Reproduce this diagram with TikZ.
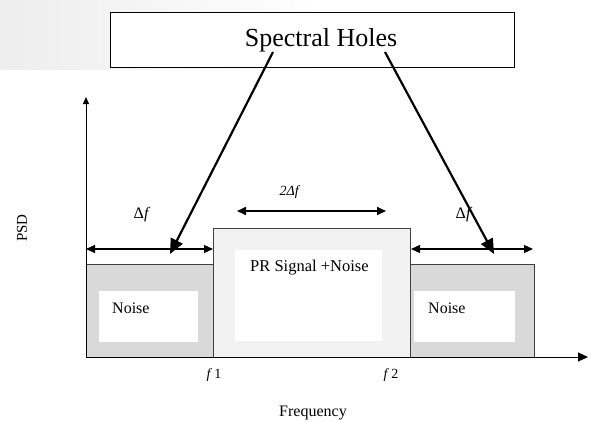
\documentclass[tikz,border=0pt]{standalone}
\usepackage{fontspec}
\setmainfont{Liberation Serif}
\usetikzlibrary{arrows.meta}
\usetikzlibrary{positioning}
\usetikzlibrary{fadings}

\definecolor{noisegray}{HTML}{D9D9D9}
\definecolor{signalgray}{HTML}{F2F2F2}
\definecolor{edgegray}{HTML}{404040}

\begin{document}
\begin{tikzpicture}[x=1pt, y=-1pt]
    \tikzstyle{band}=[draw=edgegray, line width=0.9pt]
    \tikzstyle{hole}=[fill=white, draw=none]
    \tikzstyle{lbl}=[inner sep=0pt, font=\fontsize{16}{18}\selectfont]
    \tikzstyle{dim}=[line width=1.2pt, {Triangle[length=9pt,width=8pt]}-{Triangle[length=9pt,width=8pt]}]
    \tikzstyle{pointer}=[line width=2.2pt, -{Triangle[length=15pt,width=13pt]}]
\useasboundingbox (0,0) rectangle (591,421);
% faint background patch
\fill[black!7, path fading=east] (0,0) rectangle (320,70);
% axes
    \coordinate (origin) at (86,357);
    \coordinate (ytip) at (86,97);
    \coordinate (xtip) at (588,357);
% bands
\draw[band, fill=noisegray] (86,264) rectangle (213,357);
\draw[band, fill=signalgray] (213,228) rectangle (410,357);
\draw[band, fill=noisegray] (410,264) rectangle (534,357);
\fill[hole] (99,291) rectangle (198,342);
\fill[hole] (235,250) rectangle (382,341);
\fill[hole] (414,291) rectangle (515,342);
    \node[lbl, anchor=west] (lnoise) at (112,308) {Noise};
    \node[lbl, anchor=west, font=\fontsize{16.5}{18}\selectfont] (signal) at (250,268) {PR Signal +Noise};
    \node[lbl, anchor=west] (rnoise) at (428,308) {Noise};
\draw[line width=1pt, -{Triangle[length=7pt,width=6pt]}] (origin) -- (ytip);
\draw[line width=1pt, -{Triangle[length=10pt,width=9pt]}] (origin) -- (xtip);
% widths
    \coordinate (d1) at (86,249);
    \coordinate (d2) at (213,249);
    \coordinate (d3) at (411,249);
    \coordinate (d4) at (533,249);
    \coordinate (w1) at (237,211);
    \coordinate (w2) at (386,211);
\draw[dim] (d1) -- (d2);
\draw[dim] (d3) -- (d4);
\draw[dim, line width=1.6pt] (w1) -- (w2);
    \node[lbl] (ldf) at (142,215) {Δ\textit{f}};
    \node[lbl, font=\fontsize{14}{16}\selectfont] (wdf) at (290,192) {\textit{2Δf}};
    \node[lbl] (rdf) at (464,215) {Δ\textit{f}};
% spectral holes
    \node[draw, fill=white, line width=1pt, minimum width=404pt, minimum height=55pt, font=\fontsize{26}{28}\selectfont] (holes) at (312,40) {\hspace*{18pt}Spectral Holes};
    \coordinate (s1) at (273,52);
    \coordinate (s2) at (385,52);
    \coordinate (h1) at (170,254);
    \coordinate (h2) at (494,254);
\draw[pointer] (s1) -- (h1);
\draw[pointer] (s2) -- (h2);
% axis labels
    \node[lbl, font=\fontsize{14}{16}\selectfont] (f1) at (214,375) {\textit{f}\,1};
    \node[lbl, font=\fontsize{14}{16}\selectfont] (f2) at (391,375) {\textit{f}\,2};
    \node[lbl, font=\fontsize{16}{18}\selectfont] (freq) at (313,413) {Frequency};
    \node[lbl, font=\fontsize{15}{17}\selectfont, rotate=90] (psd) at (22,228) {PSD};
\end{tikzpicture}
\end{document}
